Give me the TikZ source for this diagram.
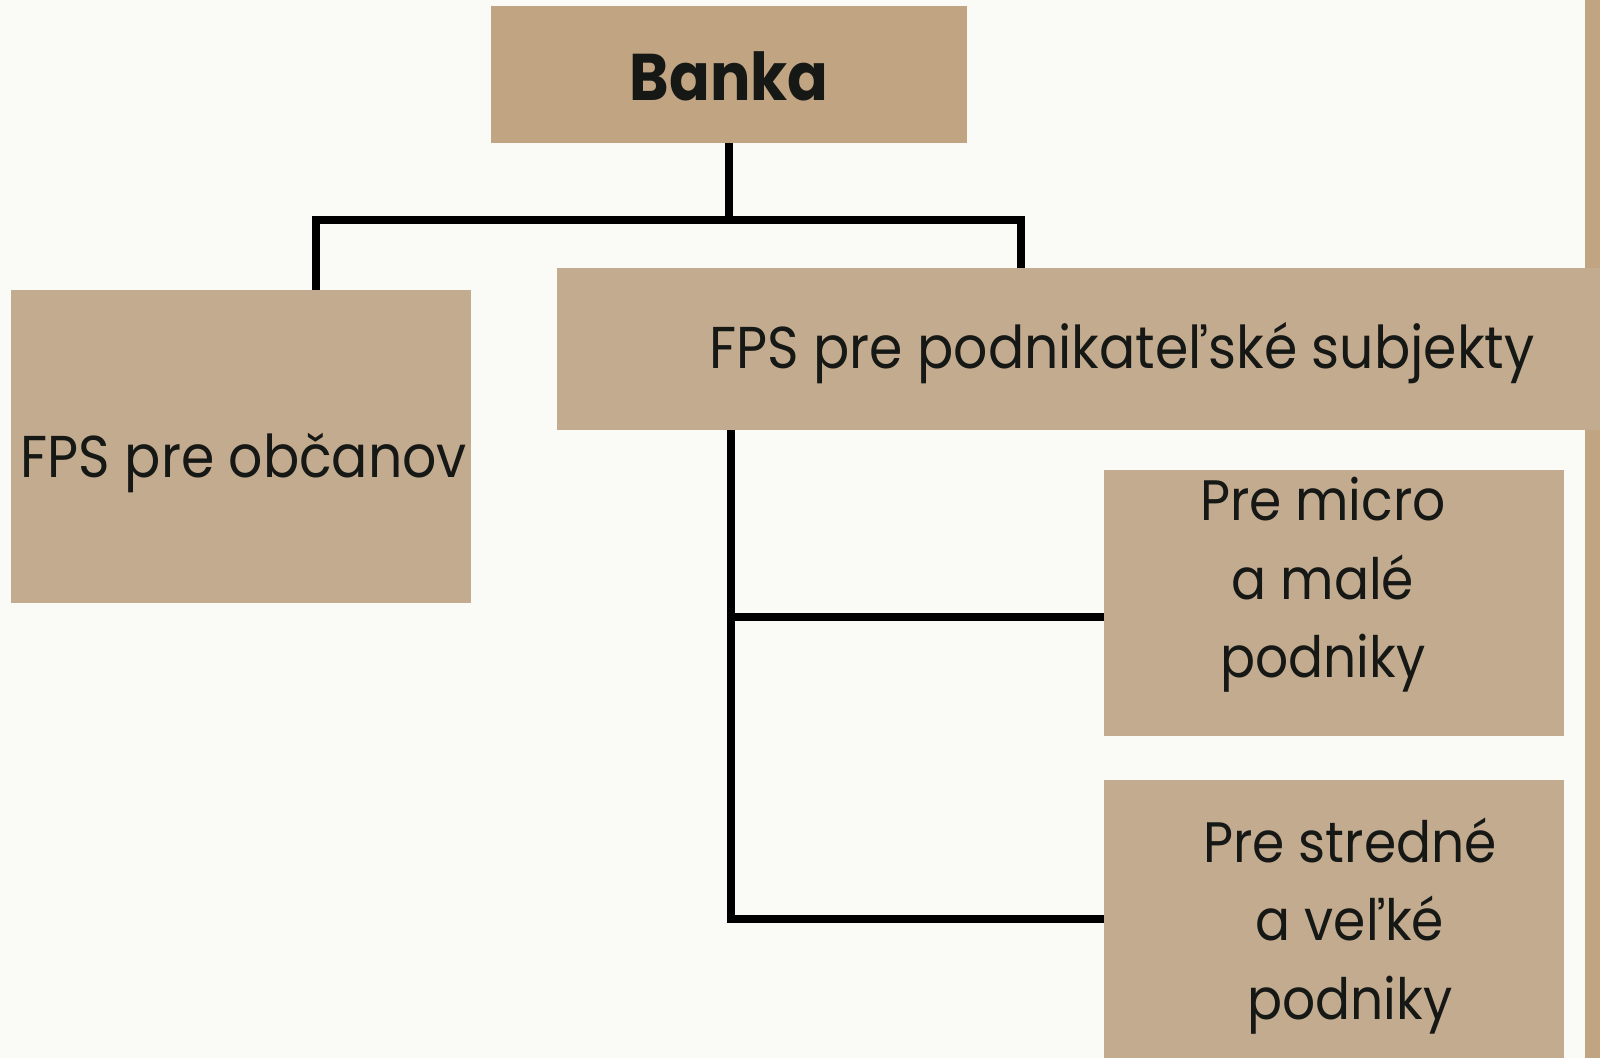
\documentclass[tikz,border=0pt]{standalone}
\usepackage{fontspec}
\setmainfont{Poppins}[FakeStretch=0.91]
\definecolor{bg}{RGB}{250,250,246}
\definecolor{tanA}{RGB}{193,165,130}
\definecolor{tanB}{RGB}{195,171,143}
\definecolor{ink}{RGB}{22,24,22}
\begin{document}
\begin{tikzpicture}[x=1pt,y=-1pt,
  box/.style={fill=tanB, draw=none, inner sep=0pt, anchor=north west},
  txt/.style={text=ink, inner sep=0pt, align=center, font=\fontsize{59}{78.6}\selectfont},
  conn/.style={draw=black, line width=8pt, line join=miter}]
\useasboundingbox (0,0) rectangle (1600,1058);
\fill[bg] (0,0) rectangle (1600,1058);
% right edge bar
\fill[tanA] (1585,0) rectangle (1600,1058);
% boxes
\node[box, fill=tanA, minimum width=476pt, minimum height=137pt] (banka) at (491,6) {};
\node[box, minimum width=460pt, minimum height=313pt] (obc) at (11,290) {};
\node[box, minimum width=1043pt, minimum height=162pt] (pod) at (557,268) {};
\node[box, minimum width=460pt, minimum height=266pt] (micro) at (1104,470) {};
\node[box, minimum width=460pt, minimum height=278pt] (str) at (1104,780) {};
% texts
\node[txt, font=\fontsize{66}{80}\selectfont\bfseries] (bankaT) at (729,76) {Banka};
\node[txt] (obcT) at (244,463) {FPS pre občanov};
\node[txt] (podT) at (1122,353) {FPS pre podnikateľské subjekty};
\node[txt, font=\fontsize{57}{78.6}\selectfont] (microT) at (1323,585) {Pre micro\\a malé\\podniky};
\node[txt, font=\fontsize{57}{78.6}\selectfont] (strT) at (1350,926) {Pre stredné\\a veľké\\podniky};
% connectors
\coordinate (jL) at (316,220);
\coordinate (jR) at (1021,220);
\coordinate (tk) at (731,617);
\draw[conn] (banka.south) -- (banka.south |- jL);
\draw[conn] (obc.north -| jL) -- (jL) -- (jR) -- (pod.north -| jR);
\draw[conn] (pod.south -| tk) -- (tk |- str.west) -- (str.west);
\draw[conn] (tk) -- (micro.west |- tk);
\end{tikzpicture}
\end{document}
